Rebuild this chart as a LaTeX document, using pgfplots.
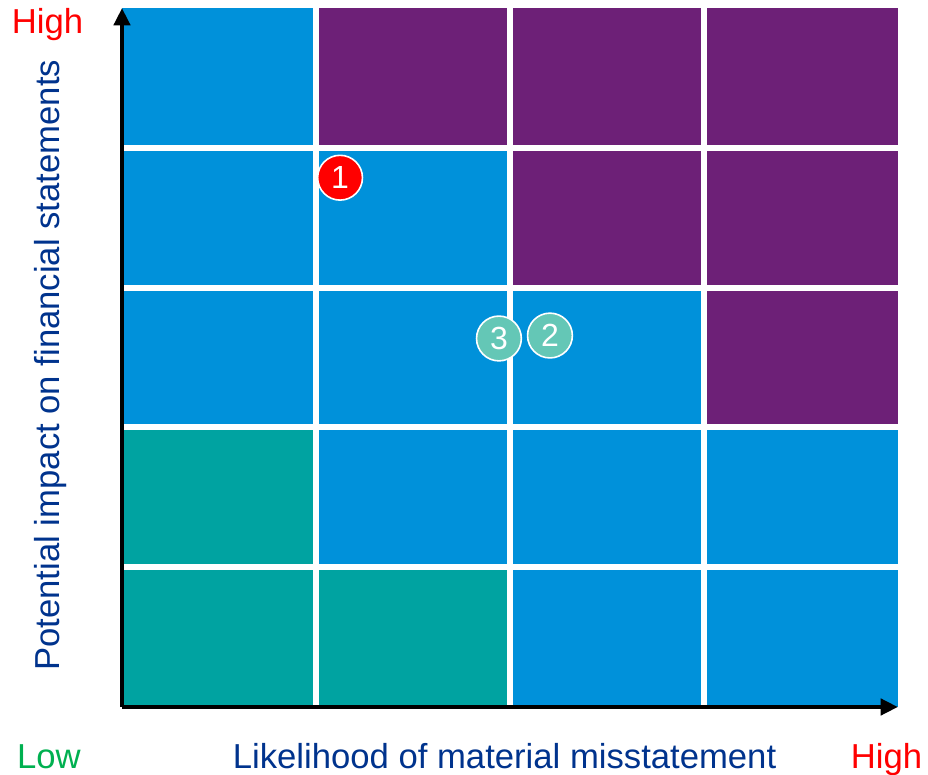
\documentclass[border=0pt]{standalone}
\usepackage{pgfplots}
\pgfplotsset{compat=1.18}
\usetikzlibrary{arrows.meta}
\usepackage{fontspec}
\setmainfont{Liberation Sans}
\definecolor{kblue}{HTML}{0091DA}
\definecolor{kpurple}{HTML}{6D2077}
\definecolor{kteal}{HTML}{00A3A1}
\definecolor{kdark}{HTML}{00338D}
\definecolor{kred}{HTML}{FF0000}
\definecolor{kgreen}{HTML}{00B050}
\definecolor{kmark}{HTML}{64C7B6}
\newcommand\bigfont{\fontsize{26}{30}\selectfont}
\begin{document}
\begin{tikzpicture}
\begin{axis}[scale only axis, width=582pt, height=524.25pt,
  xmin=0, xmax=4, ymin=0, ymax=5,
  axis lines=left,
  axis line style={line width=3.2pt, -{Triangle[length=13pt,width=12pt]}},
  xtick=\empty, ytick=\empty, clip=false, axis on top]
% row 0
\addplot[fill=kteal, draw=none] coordinates {(0,0) (1,0) (1,1) (0,1)} -- cycle;
\addplot[fill=kteal, draw=none] coordinates {(1,0) (2,0) (2,1) (1,1)} -- cycle;
\addplot[fill=kblue, draw=none] coordinates {(2,0) (3,0) (3,1) (2,1)} -- cycle;
\addplot[fill=kblue, draw=none] coordinates {(3,0) (4,0) (4,1) (3,1)} -- cycle;
% row 1
\addplot[fill=kteal, draw=none] coordinates {(0,1) (1,1) (1,2) (0,2)} -- cycle;
\addplot[fill=kblue, draw=none] coordinates {(1,1) (2,1) (2,2) (1,2)} -- cycle;
\addplot[fill=kblue, draw=none] coordinates {(2,1) (3,1) (3,2) (2,2)} -- cycle;
\addplot[fill=kblue, draw=none] coordinates {(3,1) (4,1) (4,2) (3,2)} -- cycle;
% row 2
\addplot[fill=kblue, draw=none] coordinates {(0,2) (1,2) (1,3) (0,3)} -- cycle;
\addplot[fill=kblue, draw=none] coordinates {(1,2) (2,2) (2,3) (1,3)} -- cycle;
\addplot[fill=kblue, draw=none] coordinates {(2,2) (3,2) (3,3) (2,3)} -- cycle;
\addplot[fill=kpurple, draw=none] coordinates {(3,2) (4,2) (4,3) (3,3)} -- cycle;
% row 3
\addplot[fill=kblue, draw=none] coordinates {(0,3) (1,3) (1,4) (0,4)} -- cycle;
\addplot[fill=kblue, draw=none] coordinates {(1,3) (2,3) (2,4) (1,4)} -- cycle;
\addplot[fill=kpurple, draw=none] coordinates {(2,3) (3,3) (3,4) (2,4)} -- cycle;
\addplot[fill=kpurple, draw=none] coordinates {(3,3) (4,3) (4,4) (3,4)} -- cycle;
% row 4
\addplot[fill=kblue, draw=none] coordinates {(0,4) (1,4) (1,5) (0,5)} -- cycle;
\addplot[fill=kpurple, draw=none] coordinates {(1,4) (2,4) (2,5) (1,5)} -- cycle;
\addplot[fill=kpurple, draw=none] coordinates {(2,4) (3,4) (3,5) (2,5)} -- cycle;
\addplot[fill=kpurple, draw=none] coordinates {(3,4) (4,4) (4,5) (3,5)} -- cycle;
% white gaps
\addplot[white, line width=4.5pt] coordinates {(1,0) (1,5)};
\addplot[white, line width=4.5pt] coordinates {(2,0) (2,5)};
\addplot[white, line width=4.5pt] coordinates {(3,0) (3,5)};
\addplot[white, line width=4.5pt] coordinates {(0,1) (4,1)};
\addplot[white, line width=4.5pt] coordinates {(0,2) (4,2)};
\addplot[white, line width=4.5pt] coordinates {(0,3) (4,3)};
\addplot[white, line width=4.5pt] coordinates {(0,4) (4,4)};
% markers
\addplot[only marks, mark=*, mark size=16.8pt, mark options={fill=kred, draw=white, line width=1.2pt},
  point meta=explicit symbolic,
  nodes near coords={\fontsize{24}{28}\selectfont\pgfplotspointmeta},
  every node near coord/.append style={anchor=center, text=white, inner sep=0pt}]
  coordinates {(1.124,3.786) [1]};
\addplot[only marks, mark=*, mark size=16.8pt, mark options={fill=kmark, draw=white, line width=1.2pt},
  point meta=explicit symbolic,
  nodes near coords={\fontsize{24}{28}\selectfont\pgfplotspointmeta},
  every node near coord/.append style={anchor=center, text=white, inner sep=0pt}]
  coordinates {(1.943,2.636) [3] (2.206,2.657) [2]};
% labels
\node[anchor=base, text=kred, font=\bigfont] at ([xshift=-55.9pt, yshift=-19.5pt]rel axis cs:0,1) {High};
\node[anchor=base, text=kgreen, font=\bigfont] at ([xshift=-54.75pt, yshift=-46pt]rel axis cs:0,0) {Low};
\node[anchor=base, text=kred, font=\bigfont] at ([xshift=-8.6pt, yshift=-46pt]rel axis cs:1,0) {High};
\node[anchor=base, text=kdark, font=\bigfont] at ([yshift=-46pt]axis cs:1.972,0) {Likelihood of material misstatement};
\node[anchor=base, rotate=90, text=kdark, font=\bigfont] at ([xshift=-46.5pt]rel axis cs:0,0.489) {Potential impact on financial statements};
\coordinate (bl) at (rel axis cs:0,0);
\coordinate (tr) at (rel axis cs:1,1);
\end{axis}
\pgfresetboundingbox
\path[use as bounding box] ([xshift=-91.5pt, yshift=-51pt]bl) rectangle ([xshift=22.5pt, yshift=6pt]tr);
\end{tikzpicture}
\end{document}
